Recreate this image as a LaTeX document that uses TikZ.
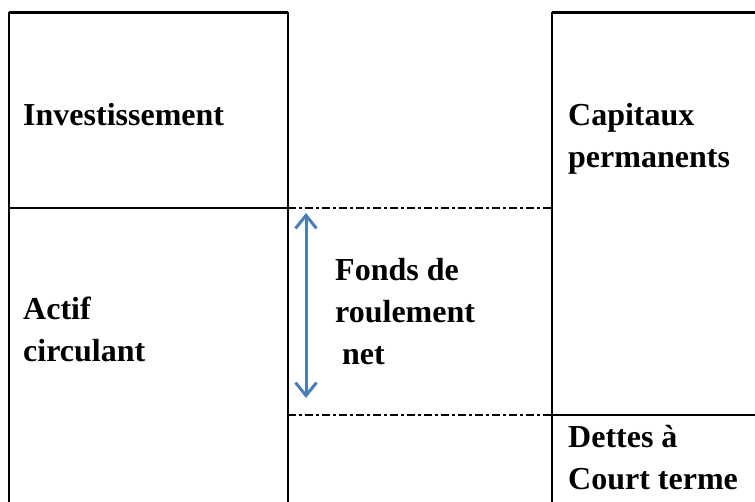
\documentclass[tikz,border=0pt]{standalone}
\usepackage{fontspec}
\setmainfont{Liberation Serif}
\usepackage{xcolor}
\usetikzlibrary{arrows.meta}

\definecolor{frblue}{RGB}{74,126,187}

\begin{document}
\begin{tikzpicture}[x=1pt, y=-1pt,
  lbl/.style={anchor=base west, inner sep=0pt, align=left,
    font=\fontsize{32}{42}\selectfont\bfseries},
  thin/.style={line width=1.6pt},
  thick/.style={line width=2.6pt},
  dashdot/.style={line width=2pt, dash pattern=on 8pt off 3pt on 3pt off 3pt}]
\useasboundingbox (0,0) rectangle (755,502);

% Actif (left column)
\draw[thick] (9,12.5) -- (288,12.5);
\draw[thin] (9,12.5) -- (9,415);
\draw[thin] (288,12.5) -- (288,415);
\draw[thick] (9,415) -- (9,502);
\draw[thick] (288,415) -- (288,502);
\draw[thick] (9,208) -- (288,208);

% Passif (right column)
\draw[thick] (552,12.5) -- (755,12.5);
\draw[thin] (552,12.5) -- (552,415);
\draw[thick] (552,415) -- (552,502);
\draw[thick] (552,415) -- (755,415);

% FRN band
\draw[dashdot] (288,208) -- (552,208);
\draw[dashdot] (288,415) -- (552,415);

% Labels (base = last line)
\node[lbl] (inv) at (23,126) {Investissement};
\node[lbl] (ac) at (23,362) {Actif\\circulant};
\node[lbl] (cp) at (568,168) {Capitaux\\permanents};
\node[lbl] (dct) at (568,489) {Dettes à\\Court terme};
\node[lbl] (frn) at (335,365) {Fonds de\\roulement\\\hspace{7pt}net};

% Arrow
\coordinate (frtop) at (306,213);
\coordinate (frbot) at (306,398);
\draw[frblue, line width=3pt,
  {Straight Barb[length=13pt, width=21pt]}-{Straight Barb[length=13pt, width=21pt]}]
  (frtop) -- (frbot);
\end{tikzpicture}
\end{document}
